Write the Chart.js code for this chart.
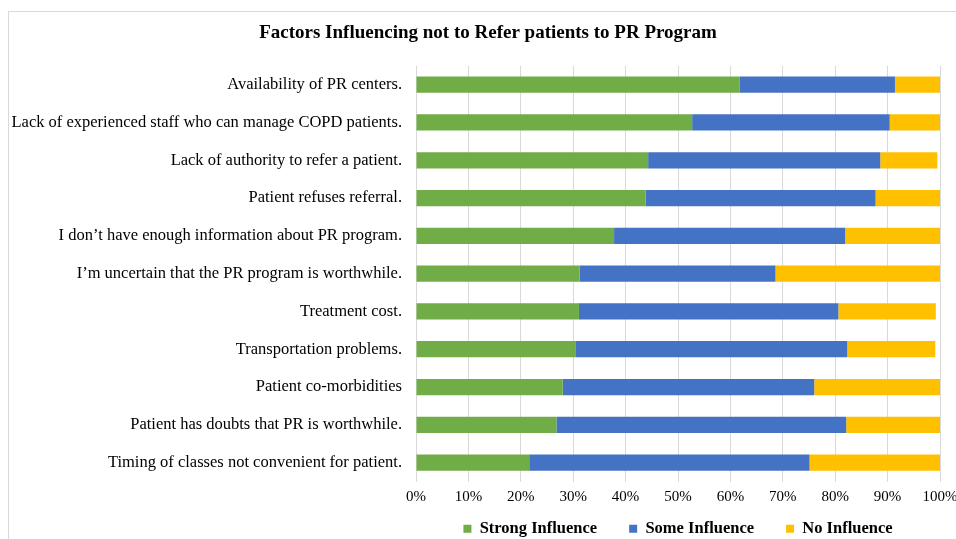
<!DOCTYPE html>
<html>
<head>
<meta charset="utf-8">
<script src="https://cdn.jsdelivr.net/npm/chart.js@4/dist/chart.umd.min.js"></script>
<style>
    html, body { margin: 0; padding: 0; background: #fff; overflow: hidden; }
    #frame {
        position: absolute; left: 8px; top: 11px;
        width: 960px; height: 560px;
        border: 1px solid #d9d9d9; background: #fff;
    }
    #frame canvas { display: block; }
</style>
</head>
<body>
<div id="frame"><canvas id="prChart" width="960" height="560"></canvas></div>
<script>
// Factors (top to bottom as shown)
const factors = [
    'Availability of PR centers.',
    'Lack of experienced staff who can manage COPD patients.',
    'Lack of authority to refer a patient.',
    'Patient refuses referral.',
    'I don\u2019t have enough information about PR program.',
    'I\u2019m uncertain that the PR program is worthwhile.',
    'Treatment cost.',
    'Transportation problems.',
    'Patient co-morbidities',
    'Patient has doubts that PR is worthwhile.',
    'Timing of classes not convenient for patient.'
];

// Percent of respondents
const strongInfluence = [61.8, 52.7, 44.3, 43.8, 37.8, 31.2, 31.1, 30.4, 28.0, 26.8, 21.6];
const someInfluence   = [29.6, 37.7, 44.3, 43.9, 44.1, 37.4, 49.5, 51.9, 48.0, 55.3, 53.5];
const noInfluence     = [8.6, 9.6, 10.9, 12.3, 18.1, 31.4, 18.6, 16.8, 24.0, 17.9, 24.9];

const xTicks = [0, 10, 20, 30, 40, 50, 60, 70, 80, 90, 100];

const serif = "'Liberation Serif', 'Times New Roman', serif";

// legend keeps its wide item spacing, but sits closer to the axis labels
const liftLegend = {
    id: 'liftLegend',
    afterLayout(chart) {
        chart.legend.top -= 25;
        chart.legend.bottom -= 25;
    }
};

const ctx = document.getElementById('prChart').getContext('2d');
new Chart(ctx, {
    type: 'bar',
    data: {
        labels: factors,
        datasets: [
            { label: 'Strong Influence', data: strongInfluence, backgroundColor: '#70AD47' },
            { label: 'Some Influence', data: someInfluence, backgroundColor: '#4472C4' },
            { label: 'No Influence', data: noInfluence, backgroundColor: '#FFC000' }
        ]
    },
    plugins: [liftLegend],
    options: {
        indexAxis: 'y',
        responsive: false,
        animation: false,
        devicePixelRatio: 1,
        categoryPercentage: 1,
        barPercentage: 0.43,
        layout: { padding: { top: 10, right: 2, bottom: 0, left: 0 } },
        plugins: {
            title: {
                display: true,
                text: 'Factors Influencing not to Refer patients to PR Program',
                color: '#000',
                font: { family: serif, size: 19, weight: 'bold' },
                padding: { top: 0, bottom: 21 }
            },
            legend: {
                position: 'bottom',
                fullSize: false,
                labels: {
                    boxWidth: 8, boxHeight: 8,
                    padding: 32,
                    color: '#000',
                    font: { family: serif, size: 16.5, weight: 'bold' }
                }
            },
            tooltip: { enabled: false }
        },
        scales: {
            x: {
                stacked: true,
                min: 0, max: 100,
                afterBuildTicks: (scale) => { scale.ticks = xTicks.map(v => ({ value: v })); },
                afterFit: (scale) => { scale.paddingRight = 29; },
                grid: { color: '#d9d9d9', drawTicks: false },
                border: { display: false },
                ticks: {
                    padding: 7,
                    color: '#000',
                    font: { family: serif, size: 15 },
                    callback: (v) => v + '%'
                }
            },
            y: {
                stacked: true,
                grid: { display: false, drawTicks: false },
                border: { display: false },
                afterFit: (scale) => { scale.width = 407; },
                ticks: {
                    padding: 14,
                    color: '#000',
                    font: { family: serif, size: 16.5 }
                }
            }
        }
    }
});
</script>
</body>
</html>
